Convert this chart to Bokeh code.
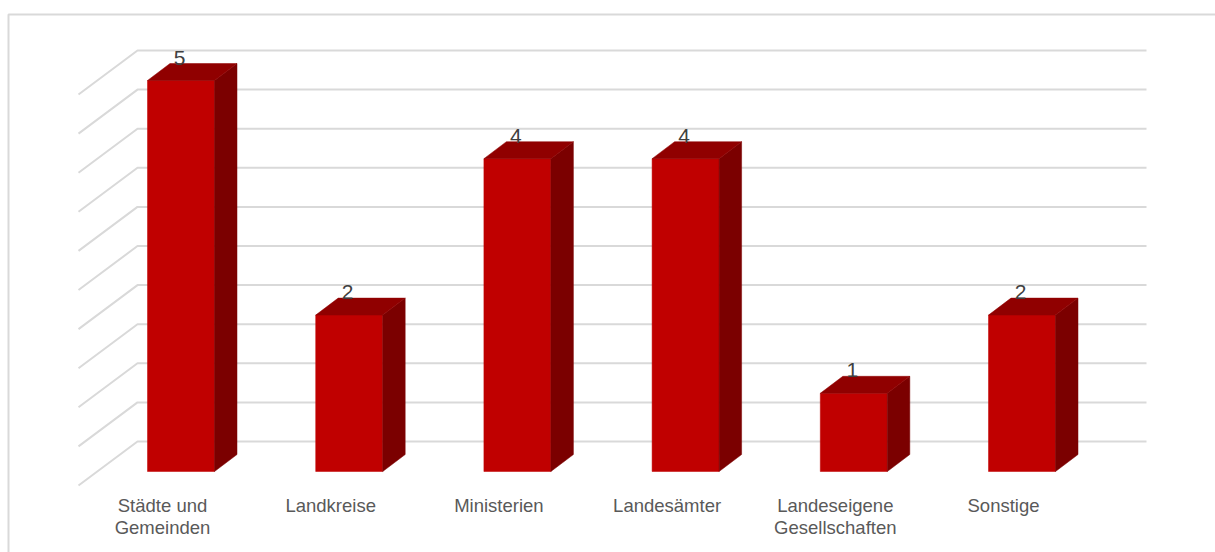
from bokeh.core.properties import value
from bokeh.embed import file_html
from bokeh.models import ColumnDataSource, Range1d
from bokeh.plotting import figure
from bokeh.resources import INLINE

categories = ["Städte und", "Landkreise", "Ministerien", "Landesämter", "Landeseigene", "Sonstige"]
second_lines = ["Gemeinden", "", "", "", "Gesellschaften", ""]
counts = [5, 2, 4, 4, 1, 2]
grid_levels = [0, 0.5, 1, 1.5, 2, 2.5, 3, 3.5, 4, 4.5, 5]

WIDTH, HEIGHT = 1215, 552
PX_PER_CAT = 168.2
PX_PER_UNIT = 78.2
ORIGIN_X = 180.5   # pixel centre of the first bar's front face
ORIGIN_Y = 471.0   # pixel of the zero level on the bar front plane


def dx(px):
    return px / PX_PER_CAT


def dy(px):
    return px / PX_PER_UNIT


p = figure(
    width=WIDTH, height=HEIGHT, output_backend="svg", toolbar_location=None,
    x_range=Range1d(-ORIGIN_X / PX_PER_CAT, (WIDTH - ORIGIN_X) / PX_PER_CAT),
    y_range=Range1d((ORIGIN_Y - HEIGHT) / PX_PER_UNIT, ORIGIN_Y / PX_PER_UNIT),
    min_border=0, outline_line_color=None, background_fill_color="white",
    border_fill_color="white",
)
p.axis.visible = False
p.grid.visible = False

# Outer chart frame
left, top = dx(8) + p.x_range.start, p.y_range.end - dy(14)
p.line([left, left, p.x_range.end], [p.y_range.start, top, top], line_color="#d9d9d9", line_width=2)

# Back wall and side wall gridlines
wall_x0, wall_x1, wall_x2 = dx(78 - ORIGIN_X), dx(137 - ORIGIN_X), dx(1146 - ORIGIN_X)
back_shift, front_shift = dy(30), dy(-14)
p.multi_line(
    [[wall_x0, wall_x1, wall_x2] for _ in grid_levels],
    [[v + front_shift, v + back_shift, v + back_shift] for v in grid_levels],
    line_color="#d9d9d9", line_width=2,
)

# Three visible faces of each bar
half_w, depth_x, depth_y = dx(33.5), dx(22.5), dy(17)
xs = list(range(len(counts)))
faces = dict(
    front=([[x - half_w, x + half_w, x + half_w, x - half_w] for x in xs],
           [[0, 0, v, v] for v in counts], "#c00000"),
    side=([[x + half_w, x + half_w + depth_x, x + half_w + depth_x, x + half_w] for x in xs],
          [[0, depth_y, v + depth_y, v] for v in counts], "#7b0000"),
    top=([[x - half_w, x + half_w, x + half_w + depth_x, x - half_w + depth_x] for x in xs],
         [[v, v, v + depth_y, v + depth_y] for v in counts], "#900000"),
)
for fx, fy, colour in faces.values():
    p.patches(fx, fy, fill_color=colour, line_color=colour, line_width=0.5)

# Value labels above each bar
labels = ColumnDataSource(dict(
    x=[x + dx(-1.5) for x in xs],
    y=[v + dy(23) for v in counts],
    text=[str(v) for v in counts],
))
p.text("x", "y", text="text", source=labels, text_font=value("Liberation Sans"),
       text_font_size="21px", text_color="#404040", text_align="center", text_baseline="middle")

# Two-line category labels
for names, offset in ((categories, 33.5), (second_lines, 56)):
    src = ColumnDataSource(dict(
        x=[x + dx(-18.5) for x in xs],
        y=[dy(-offset) for _ in xs],
        text=names,
    ))
    p.text("x", "y", text="text", source=src, text_font=value("Liberation Sans"),
           text_font_size="18.5px", text_color="#595959", text_align="center", text_baseline="middle")

open("out.html", "w").write(file_html(p, INLINE))
